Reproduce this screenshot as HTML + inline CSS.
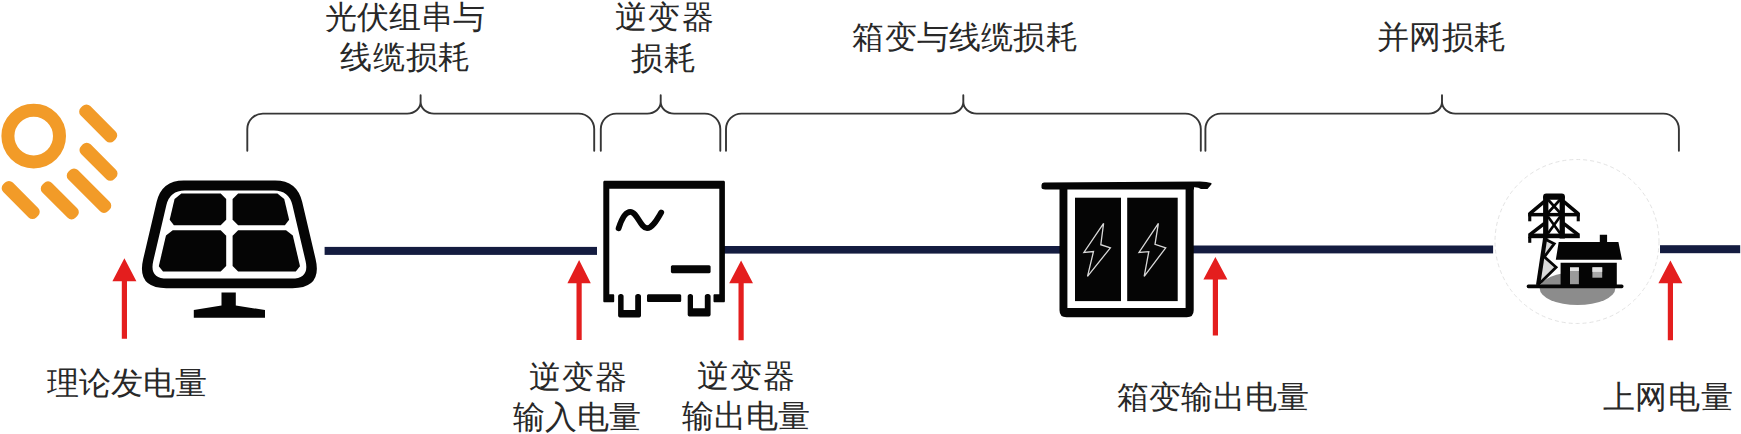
<!DOCTYPE html>
<html><head><meta charset="utf-8">
<style>
html,body{margin:0;padding:0;background:#fff;}
body{width:1741px;height:434px;overflow:hidden;position:relative;font-family:"Liberation Sans",sans-serif;}
svg{position:absolute;left:0;top:0;}
.t{position:absolute;font-size:32px;line-height:40px;color:#282828;white-space:nowrap;}
</style></head><body>
<svg width="1741" height="434" viewBox="0 0 1741 434">
<!-- braces -->
<g fill="none" stroke="#363636" stroke-width="1.9" stroke-linecap="round">
<path d="M247.3,150.8 V129.1 A15.5,15.5 0 0 1 262.8,113.6 H407.20000000000005 A13.4,11.5 0 0 0 420.6,102.1 V95.2 M420.6,102.1 A13.4,11.5 0 0 0 434.0,113.6 H578.7 A15.5,15.5 0 0 1 594.2,129.1 V150.8"/>
<path d="M600.8,150.8 V129.1 A15.5,15.5 0 0 1 616.3,113.6 H647.3000000000001 A13.4,11.5 0 0 0 660.7,102.1 V95.2 M660.7,102.1 A13.4,11.5 0 0 0 674.1,113.6 H704.8 A15.5,15.5 0 0 1 720.3,129.1 V150.8"/>
<path d="M726,150.8 V129.1 A15.5,15.5 0 0 1 741.5,113.6 H949.9 A13.4,11.5 0 0 0 963.3,102.1 V95.2 M963.3,102.1 A13.4,11.5 0 0 0 976.6999999999999,113.6 H1185.3 A15.5,15.5 0 0 1 1200.8,129.1 V150.8"/>
<path d="M1205.4,150.8 V129.1 A15.5,15.5 0 0 1 1220.9,113.6 H1428.6 A13.4,11.5 0 0 0 1442,102.1 V95.2 M1442,102.1 A13.4,11.5 0 0 0 1455.4,113.6 H1663.4 A15.5,15.5 0 0 1 1678.9,129.1 V150.8"/>
</g>
<!-- navy lines -->
<g fill="#141c40">
<rect x="324.6" y="246.9" width="272.4" height="8"/>
<rect x="724" y="246" width="340" height="7.6"/>
<rect x="1193" y="245.5" width="300.1" height="7.9"/>
<rect x="1660" y="245.2" width="80.2" height="8"/>
</g>
<!-- sun -->
<g stroke="#f29b28" fill="none" stroke-linecap="round">
<circle cx="33.7" cy="136.1" r="25.8" stroke-width="13"/>
</g>
<g fill="#f29b28">
<rect x="74.80" y="116.75" width="46.80" height="13.5" rx="5.5" transform="rotate(45 98.2 123.5)"/>
<rect x="75.10" y="155.05" width="46.80" height="13.5" rx="5.5" transform="rotate(45 98.5 161.8)"/>
<rect x="61.05" y="183.95" width="55.90" height="13.5" rx="5.5" transform="rotate(45 89 190.7)"/>
<rect x="36.40" y="193.65" width="46.80" height="13.5" rx="5.5" transform="rotate(45 59.8 200.4)"/>
<rect x="-2.70" y="193.25" width="46.80" height="13.5" rx="5.5" transform="rotate(45 20.7 200)"/>
</g>
<!-- solar panel -->
<g>
<path fill="#050505" fill-rule="evenodd" d="M183.68,180.40 L275.12,180.40 Q297.12,180.40 302.15,201.82 L315.59,259.00 Q322.45,288.20 292.45,288.20 L166.35,288.20 Q136.35,288.20 143.21,259.00 L156.65,201.82 Q161.68,180.40 183.68,180.40 Z M184.83,190.40 L273.97,190.40 Q288.97,190.40 292.40,205.00 L305.55,260.98 Q309.67,278.50 291.67,278.50 L167.13,278.50 Q149.13,278.50 153.25,260.98 L166.40,205.00 Q169.83,190.40 184.83,190.40 Z"/>
<path fill="#050505" d="M174.58,198.95 L181.34,193.60 L220.70,193.60 L226.20,199.10 L226.20,219.70 L220.70,225.20 L173.91,225.20 L169.67,219.85 Z"/>
<path fill="#050505" d="M232.60,199.10 L238.10,193.60 L277.46,193.60 L284.22,198.95 L289.13,219.85 L284.89,225.20 L238.10,225.20 L232.60,219.70 Z"/>
<path fill="#050505" d="M165.98,235.55 L172.74,230.20 L220.70,230.20 L226.20,235.70 L226.20,266.00 L220.70,271.50 L163.03,271.50 L158.79,266.15 Z"/>
<path fill="#050505" d="M232.60,235.70 L238.10,230.20 L286.06,230.20 L292.82,235.55 L300.01,266.15 L295.77,271.50 L238.10,271.50 L232.60,266.00 Z"/>
<path fill="#050505" d="M221.5,292.4 H235.8 V305.4 L265,310.1 V317.8 H193.8 V310.1 L221.5,305.4 Z"/>
</g>
<!-- inverter -->
<g fill="#050505">
<path d="M604.50,180.80 L604.19,180.84 L603.90,180.96 L603.65,181.15 L603.46,181.40 L603.34,181.69 L603.30,182.00 L603.30,301.10 L603.34,301.41 L603.46,301.70 L603.65,301.95 L603.90,302.14 L604.19,302.26 L604.50,302.30 L613.00,302.30 L613.31,302.26 L613.60,302.14 L613.85,301.95 L614.04,301.70 L614.16,301.41 L614.20,301.10 L614.20,295.40 L614.16,295.09 L614.04,294.80 L613.85,294.55 L613.60,294.36 L613.31,294.24 L613.00,294.20 L609.30,294.20 L609.30,188.70 L719.30,188.70 L719.30,294.20 L714.70,294.20 L714.39,294.24 L714.10,294.36 L713.85,294.55 L713.66,294.80 L713.54,295.09 L713.50,295.40 L713.50,301.10 L713.54,301.41 L713.66,301.70 L713.85,301.95 L714.10,302.14 L714.39,302.26 L714.70,302.30 L723.70,302.30 L724.01,302.26 L724.30,302.14 L724.55,301.95 L724.74,301.70 L724.86,301.41 L724.90,301.10 L724.90,182.00 L724.86,181.69 L724.74,181.40 L724.55,181.15 L724.30,180.96 L724.01,180.84 L723.70,180.80 Z"/>
<path d="M620.30,294.10 L619.73,294.17 L619.20,294.39 L618.74,294.74 L618.39,295.20 L618.17,295.73 L618.10,296.30 L618.10,315.40 L618.17,315.97 L618.39,316.50 L618.74,316.96 L619.20,317.31 L619.73,317.53 L620.30,317.60 L638.80,317.60 L639.37,317.53 L639.90,317.31 L640.36,316.96 L640.71,316.50 L640.93,315.97 L641.00,315.40 L641.00,296.30 L640.93,295.73 L640.71,295.20 L640.36,294.74 L639.90,294.39 L639.37,294.17 L638.80,294.10 L637.40,294.10 L636.83,294.17 L636.30,294.39 L635.84,294.74 L635.49,295.20 L635.27,295.73 L635.20,296.30 L635.20,310.00 L623.60,310.00 L623.60,296.30 L623.53,295.73 L623.31,295.20 L622.96,294.74 L622.50,294.39 L621.97,294.17 L621.40,294.10 Z"/>
<path d="M689.90,294.10 L689.33,294.17 L688.80,294.39 L688.34,294.74 L687.99,295.20 L687.77,295.73 L687.70,296.30 L687.70,314.40 L687.77,314.97 L687.99,315.50 L688.34,315.96 L688.80,316.31 L689.33,316.53 L689.90,316.60 L708.40,316.60 L708.97,316.53 L709.50,316.31 L709.96,315.96 L710.31,315.50 L710.53,314.97 L710.60,314.40 L710.60,296.30 L710.53,295.73 L710.31,295.20 L709.96,294.74 L709.50,294.39 L708.97,294.17 L708.40,294.10 L707.00,294.10 L706.43,294.17 L705.90,294.39 L705.44,294.74 L705.09,295.20 L704.87,295.73 L704.80,296.30 L704.80,308.20 L693.00,308.20 L693.00,296.30 L692.93,295.73 L692.71,295.20 L692.36,294.74 L691.90,294.39 L691.37,294.17 L690.80,294.10 Z"/>
<path d="M681.20,295.80 L681.15,295.41 L681.00,295.05 L680.76,294.74 L680.45,294.50 L680.09,294.35 L679.70,294.30 L648.50,294.30 L648.11,294.35 L647.75,294.50 L647.44,294.74 L647.20,295.05 L647.05,295.41 L647.00,295.80 L647.00,300.60 L647.05,300.99 L647.20,301.35 L647.44,301.66 L647.75,301.90 L648.11,302.05 L648.50,302.10 L679.70,302.10 L680.09,302.05 L680.45,301.90 L680.76,301.66 L681.00,301.35 L681.15,300.99 L681.20,300.60 Z"/>
<path d="M710.60,267.00 L710.54,266.53 L710.36,266.10 L710.07,265.73 L709.70,265.44 L709.27,265.26 L708.80,265.20 L672.70,265.20 L672.23,265.26 L671.80,265.44 L671.43,265.73 L671.14,266.10 L670.96,266.53 L670.90,267.00 L670.90,271.50 L670.96,271.97 L671.14,272.40 L671.43,272.77 L671.80,273.06 L672.23,273.24 L672.70,273.30 L708.80,273.30 L709.27,273.24 L709.70,273.06 L710.07,272.77 L710.36,272.40 L710.54,271.97 L710.60,271.50 Z"/>
</g>
<path fill="none" stroke="#050505" stroke-width="5.8" stroke-linecap="round" d="M618.6,228.3 C621.5,219 625.5,211.8 630.3,211.8 C637,211.8 640.5,228.2 647,228.2 C652.5,228.2 657,219.5 661.2,212.6"/>
<!-- transformer -->
<g fill="#050505">
<path d="M1059.5,186 H1067.4 V308 H1185.6 V186 H1193.7 V310.3 Q1193.7,317.3 1186.7,317.3 H1066.5 Q1059.5,317.3 1059.5,310.3 Z"/>
<path d="M1041.5,185 Q1041.5,182.5 1044,182.4 L1200,181.6 Q1207,181.8 1211.2,183 Q1212,183.9 1211.3,184.6 L1207.5,188.9 L1201,189 Q1198.5,187 1194,187.2 L1194,189.4 L1046,189.4 Q1041.5,189.6 1041.5,187.5 Z"/>
<rect x="1075" y="197.7" width="46" height="103.4"/>
<rect x="1127.2" y="197.7" width="50.5" height="103.4"/>
</g>
<g fill="none" stroke="#d8d8d8" stroke-width="1.3" stroke-linejoin="miter">
<path d="M1103.6,223.3 L1083.9,252.4 L1093.5,251.5 L1087.5,276.4 L1110.4,247.8 L1100.8,244.7 Z"/>
<path d="M1158.4,223.3 L1139,252.4 L1148.8,251.6 L1144.2,276.4 L1165.7,247.8 L1155,244.4 Z"/>
</g>
<!-- grid circle -->
<circle cx="1577" cy="241.5" r="82" fill="#fff" stroke="#e3e3e3" stroke-width="1" stroke-dasharray="4 3"/>
<ellipse cx="1577.5" cy="288.5" rx="37.8" ry="16.5" fill="#8c8c8c"/>
<path fill="#d9d9d9" d="M1546.5,239 L1554.5,244 L1544.5,256.5 L1556.5,267.3 L1540,283.5 Z"/>
<g fill="#050505">
<rect x="1526.7" y="284.6" width="96.8" height="3.6" rx="1.6"/>
<path d="M1558.7,242.1 H1599.8 V234.8 H1607.1 V242.1 H1618.4 L1622,259.8 H1555.8 Z"/>
<path d="M1560.6,262.8 H1616.8 V285.6 H1560.6 Z"/>
<rect x="1543.1" y="193.6" width="21.8" height="6.2" rx="3.2"/>
<rect x="1543.1" y="196.5" width="5.3" height="42"/>
<rect x="1559.6" y="196.5" width="5.3" height="42"/>
<rect x="1528.2" y="212.9" width="51.6" height="3.5"/>
<rect x="1528.2" y="233.6" width="51.6" height="4.6"/>
<rect x="1528.2" y="212.9" width="3.1" height="8.4"/>
<rect x="1576.7" y="212.9" width="3.1" height="8.4"/>
<rect x="1528.2" y="237" width="3.1" height="5.8"/>
</g>
<g fill="none" stroke="#050505" stroke-linecap="butt">
<path stroke-width="3.6" d="M1544.5,201.3 L1529.6,213.8 M1563.5,201.3 L1578.4,213.8 M1544.5,223.3 L1529.6,234.8 M1563.5,223.3 L1578.4,234.8"/>
<path stroke-width="2.6" d="M1547.9,199.5 L1560.2,213 M1560.2,199.5 L1547.9,213 M1547.9,216.4 L1560.2,233.6 M1560.2,216.4 L1547.9,233.6"/>
<path stroke-width="4.2" d="M1545.5,236 L1538.1,285"/>
<path stroke-width="2.8" stroke-linejoin="miter" d="M1545.8,239.5 L1554.2,243.8 L1544.3,256.9 L1556.1,267.3 L1539.5,283.5"/>
</g>
<rect x="1570" y="267.4" width="8.9" height="16.8" fill="#9a9a9a"/>
<rect x="1570" y="267.4" width="8.9" height="3.6" fill="#e2e2e2"/>
<rect x="1592.4" y="267.3" width="9.8" height="10.4" fill="#a8a8a8"/>
<rect x="1592.4" y="267.3" width="9.8" height="4.6" fill="#e2e2e2"/>
<!-- red arrows -->
<g fill="#e41e1e">
<path d="M124.4,258.3 L136.4,281.2 H127.0 V338.8 H121.8 V281.2 H112.4 Z"/>
<path d="M579.1,259.9 L590.8,283.2 H581.7 V339.9 H576.5 V283.2 H567.4 Z"/>
<path d="M741.1,260.5 L753.0,283.3 H743.7 V340.2 H738.5 V283.3 H729.2 Z"/>
<path d="M1215.4,256.9 L1227.4,279.4 H1218.0 V335.4 H1212.8 V279.4 H1203.4 Z"/>
<path d="M1670.4,260.5 L1682.4,283.3 H1673.0 V340.2 H1667.8 V283.3 H1658.4 Z"/>
</g>
</svg>
<div class="t" style="left:325.2px;top:-3.4px">光伏组串与</div>
<div class="t" style="left:340.4px;top:37.4px;letter-spacing:0.7px">线缆损耗</div>
<div class="t" style="left:614.7px;top:-2.8px;letter-spacing:1.45px">逆变器</div>
<div class="t" style="left:631.2px;top:37.8px;letter-spacing:0.7px">损耗</div>
<div class="t" style="left:852.4px;top:17.0px;letter-spacing:0.22px">箱变与线缆损耗</div>
<div class="t" style="left:1376.6px;top:17.0px;letter-spacing:0.6px">并网损耗</div>
<div class="t" style="left:47.2px;top:363.3px;letter-spacing:-0.08px">理论发电量</div>
<div class="t" style="left:529.0px;top:357.3px;letter-spacing:0.95px">逆变器</div>
<div class="t" style="left:513.4px;top:397.3px;letter-spacing:-0.07px">输入电量</div>
<div class="t" style="left:697.3px;top:356.2px;letter-spacing:0.95px">逆变器</div>
<div class="t" style="left:681.9px;top:396.3px;letter-spacing:-0.07px">输出电量</div>
<div class="t" style="left:1116.6px;top:376.8px;letter-spacing:0.16px">箱变输出电量</div>
<div class="t" style="left:1602.6px;top:377.1px;letter-spacing:0.7px">上网电量</div>
</body></html>
